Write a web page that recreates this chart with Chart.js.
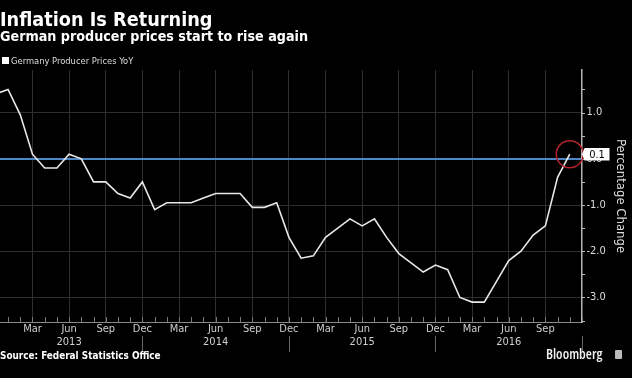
<!DOCTYPE html>
<html><head><meta charset="utf-8">
<script src="https://cdn.jsdelivr.net/npm/chart.js@4/dist/chart.umd.min.js"></script>
<style>
html,body{margin:0;padding:0;background:#000;}
#wrap{position:relative;width:632px;height:378px;background:#000;overflow:hidden;font-family:"DejaVu Sans Condensed","DejaVu Sans",sans-serif;font-stretch:condensed;}
#c{position:absolute;left:0;top:0;}
.t{position:absolute;white-space:nowrap;color:#fff;}
</style></head><body>
<div id="wrap">
<canvas id="c" width="632" height="378"></canvas>
<div class="t" style="left:0;top:10px;font-weight:bold;font-size:19.7px;line-height:19.7px;">Inflation Is Returning</div>
<div class="t" style="left:0;top:29px;font-weight:bold;font-size:14.2px;line-height:14.2px;">German producer prices start to rise again</div>
<div class="t" style="left:2px;top:57px;width:7px;height:7px;background:#fff;"></div>
<div class="t" style="left:11px;top:56.3px;font-size:9.3px;line-height:9.3px;color:#ddd;">Germany Producer Prices YoY</div>
<div class="t" style="left:0;top:351px;font-weight:bold;font-size:9.9px;line-height:9.9px;">Source: Federal Statistics Office</div>
<div class="t" style="left:546px;top:346px;font-family:'Open Sans',sans-serif;font-weight:600;font-size:14px;line-height:15px;color:#f2f2f2;">Bloomberg</div>
<div class="t" style="left:615px;top:350px;width:7px;height:9px;background:#bbb;border-radius:1px;"></div>
</div>
<script>
const periods = ['Dec 2012','Jan 2013','Feb 2013','Mar 2013','Apr 2013','May 2013','Jun 2013','Jul 2013','Aug 2013','Sep 2013','Oct 2013','Nov 2013','Dec 2013',
'Jan 2014','Feb 2014','Mar 2014','Apr 2014','May 2014','Jun 2014','Jul 2014','Aug 2014','Sep 2014','Oct 2014','Nov 2014','Dec 2014',
'Jan 2015','Feb 2015','Mar 2015','Apr 2015','May 2015','Jun 2015','Jul 2015','Aug 2015','Sep 2015','Oct 2015','Nov 2015','Dec 2015',
'Jan 2016','Feb 2016','Mar 2016','Apr 2016','May 2016','Jun 2016','Jul 2016','Aug 2016','Sep 2016','Oct 2016','Nov 2016'];
const ppiYoY = [1.4, 1.5, 0.95, 0.1, -0.2, -0.2, 0.1, 0.0, -0.5, -0.5, -0.75, -0.85, -0.5,
-1.1, -0.95, -0.95, -0.95, -0.85, -0.75, -0.75, -0.75, -1.05, -1.05, -0.95, -1.7,
-2.15, -2.1, -1.7, -1.5, -1.3, -1.45, -1.3, -1.7, -2.05, -2.25, -2.45, -2.3,
-2.4, -3.0, -3.1, -3.1, -2.65, -2.2, -2.0, -1.65, -1.45, -0.4, 0.1];
const xTickMonths = ['Mar','Jun','Sep','Dec'];
const yearLabels = ['2013','2014','2015','2016'];
const yTicks = [-3, -2, -1, 0, 1];
const monthNames = ['Jan','Feb','Mar','Apr','May','Jun','Jul','Aug','Sep','Oct','Nov','Dec'];
const baseYear = 2013;

function monthIndex(p){ const [mn, yr] = p.split(' '); return (parseInt(yr,10)-baseYear)*12 + monthNames.indexOf(mn); }
const points = periods.map((p,i)=>({x: monthIndex(p), y: ppiYoY[i]}));
const lastIdx = monthIndex(periods[periods.length-1]);
const xTickValues = [];
yearLabels.forEach(yr => xTickMonths.forEach(mn => { const v = monthIndex(mn+' '+yr); if (v <= lastIdx) xTickValues.push(v); }));
const yearSeps = yearLabels.map(yr => monthIndex('Dec '+yr));

const FONT = "'DejaVu Sans Condensed','DejaVu Sans',sans-serif";

const extras = {
  id: 'extras',
  afterDraw(chart){
    const {ctx, chartArea: a, scales: {x, y}} = chart;
    ctx.save();
    ctx.strokeStyle = '#777'; ctx.lineWidth = 1;
    ctx.beginPath();
    for (let m = Math.ceil(x.min); m <= x.max; m++) {
      const px = Math.round(x.getPixelForValue(m)) + 0.5;
      ctx.moveTo(px, a.bottom); ctx.lineTo(px, a.bottom - 5);
    }
    ctx.stroke();
    ctx.strokeStyle = '#666';
    ctx.beginPath();
    yearSeps.forEach(m => {
      const px = Math.round(x.getPixelForValue(m)) + 0.5;
      ctx.moveTo(px, a.bottom + 14); ctx.lineTo(px, a.bottom + 30);
    });
    ctx.stroke();
    ctx.strokeStyle = '#bbb';
    ctx.beginPath();
    for (let v = Math.ceil(y.min*2)/2; v <= y.max; v += 0.5) {
      const py = Math.round(y.getPixelForValue(v)) + 0.5;
      ctx.moveTo(a.right, py); ctx.lineTo(a.right + 3, py);
    }
    ctx.stroke();
    const lp = points[points.length-1];
    const cx = x.getPixelForValue(lp.x), cy = y.getPixelForValue(lp.y);
    ctx.strokeStyle = '#b3232b'; ctx.lineWidth = 1.5;
    ctx.beginPath(); ctx.arc(cx, cy, 13.5, 0, Math.PI*2); ctx.stroke();
    const bx = a.right + 2.5, bw = 25, bh = 12.5;
    ctx.fillStyle = '#fff';
    ctx.beginPath();
    ctx.moveTo(a.right, cy);
    ctx.lineTo(bx, cy - bh/2);
    ctx.lineTo(bx + bw, cy - bh/2);
    ctx.lineTo(bx + bw, cy + bh/2);
    ctx.lineTo(bx, cy + bh/2);
    ctx.closePath(); ctx.fill();
    ctx.fillStyle = '#000';
    ctx.font = "11px " + FONT;
    ctx.textAlign = 'center'; ctx.textBaseline = 'middle';
    ctx.fillText(lp.y.toFixed(1), bx + bw/2, cy + 0.5);
    ctx.restore();
  }
};

new Chart(document.getElementById('c'), {
  type: 'line',
  data: { datasets: [{
    label: 'Germany Producer Prices YoY',
    data: points,
    borderColor: '#e8e8e8', borderWidth: 1.6,
    pointRadius: 0, tension: 0, fill: false
  }]},
  options: {
    responsive: false, animation: false, devicePixelRatio: 1,
    layout: { padding: { top: 70, left: 0, right: 0, bottom: 0 } },
    plugins: { legend: { display: false }, tooltip: { enabled: false } },
    scales: {
      x: {
        type: 'linear', min: -0.66, max: 47,
        afterFit: s => { s.height = 56; },
        afterBuildTicks: s => { s.ticks = xTickValues.map(v => ({value: v})); },
        grid: { color: '#2e2e2e', lineWidth: 1, drawTicks: false },
        border: { display: true, color: '#8a8a8a', width: 1 },
        ticks: {
          autoSkip: false, maxRotation: 0, padding: 1, color: '#cfcfcf',
          font: { family: FONT, size: 11, lineHeight: 1.18 },
          callback: v => {
            const mn = monthNames[((v % 12) + 12) % 12];
            return mn === 'Jun' ? [mn, String(baseYear + Math.floor(v/12))] : mn;
          }
        }
      },
      y: {
        type: 'linear', position: 'right', min: -3.53, max: 1.92,
        afterFit: s => { s.width = 50; },
        afterBuildTicks: s => { s.ticks = yTicks.map(v => ({value: v})); },
        grid: {
          drawTicks: false,
          color: c => c.tick && c.tick.value === 0 ? '#4f86c6' : '#2e2e2e',
          lineWidth: c => c.tick && c.tick.value === 0 ? 2 : 1
        },
        border: { display: true, color: '#b5b5b5', width: 1.5 },
        ticks: {
          padding: 4.5, color: '#dcdcdc',
          font: { family: FONT, size: 11 },
          callback: v => v.toFixed(1)
        },
        title: {
          display: true, text: 'Percentage Change', color: '#dcdcdc',
          font: { family: FONT, size: 13, lineHeight: 1.2 },
          padding: { top: 4.2, bottom: 0 }
        }
      }
    }
  },
  plugins: [extras]
});
</script>
</body></html>
